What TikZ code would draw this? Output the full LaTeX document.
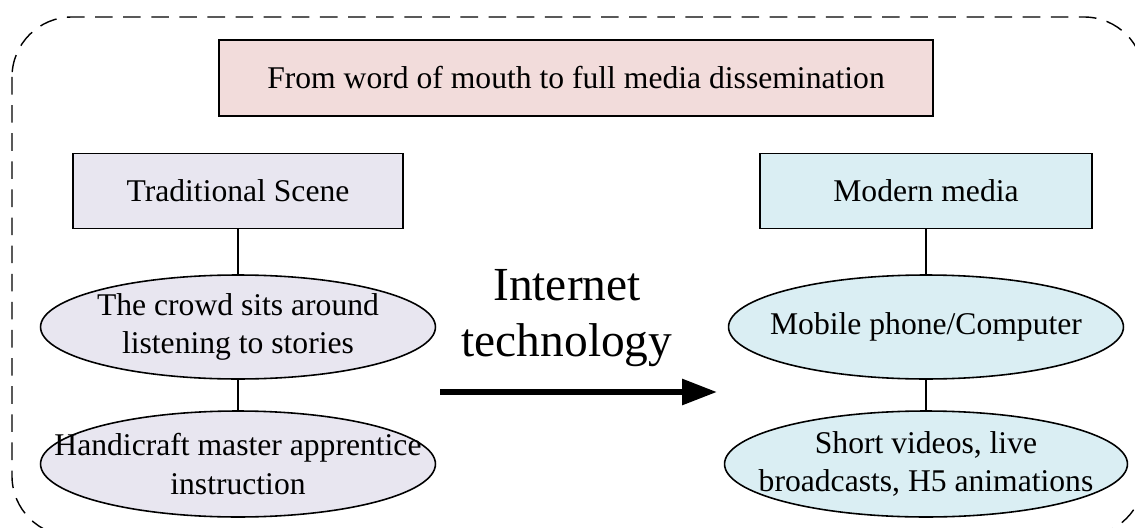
\documentclass[tikz,border=0pt]{standalone}
\usepackage{fontspec}
\setmainfont{Liberation Serif}
\usetikzlibrary{shapes.geometric,arrows.meta}
\definecolor{pinkfill}{HTML}{F2DCDB}
\definecolor{lilacfill}{HTML}{E8E6F0}
\definecolor{bluefill}{HTML}{DAEEF3}
\begin{document}
\begin{tikzpicture}[x=0.02cm,y=-0.02cm]
	\useasboundingbox (0,0) rectangle (1135,527);
	\begin{scope}
		\clip (0,0) rectangle (1135,527);
		\draw[dashed, dash pattern=on 10pt off 6pt, line width=0.8pt, rounded corners=1.2cm] (12,17) rectangle (1144,536);
	\end{scope}
	\begin{scope}[every node/.style={draw=black, line width=0.9pt, font=\fontsize{18}{22}\selectfont, align=center, inner sep=0pt}]
		\node[fill=pinkfill, minimum width=14.28cm, minimum height=1.52cm] (title) at (576,78) {From word of mouth to full media dissemination};
		\node[fill=lilacfill, minimum width=6.6cm, minimum height=1.5cm] (trad) at (238,191) {Traditional Scene};
		\node[fill=bluefill, minimum width=6.64cm, minimum height=1.5cm] (modern) at (926,191) {Modern media};
	\end{scope}
	\begin{scope}[every node/.style={draw=black, line width=0.9pt, ellipse, font=\fontsize{18}{22}\selectfont, align=center, inner xsep=-1.5cm, inner ysep=-0.4cm}]
		\node[fill=lilacfill, minimum width=7.9cm, minimum height=2.08cm] (crowd) at (238,327) {The crowd sits around\\listening to stories};
		\node[fill=lilacfill, minimum width=7.9cm, minimum height=2.12cm] (craft) at (238,464) {Handicraft master apprentice\\instruction};
		\node[fill=bluefill, minimum width=7.9cm, minimum height=2.08cm] (phone) at (926,327) {Mobile phone/Computer};
		\node[fill=bluefill, minimum width=8.06cm, minimum height=2.12cm] (video) at (926,464) {Short videos, live\\broadcasts, H5 animations};
	\end{scope}
	\begin{scope}[every edge/.style={draw=black, line width=0.9pt}]
		\path (trad) edge (crowd);
		\path (crowd) edge (craft);
		\path (modern) edge (phone);
		\path (phone) edge (video);
	\end{scope}
	\node[font=\fontsize{27}{32}\selectfont, align=center] (net) at (567,318) {Internet\\technology};
	\coordinate (arrL) at (440,392);
	\coordinate (arrR) at (717,392);
	\draw[line width=3.4pt, -{Triangle[length=0.7cm,width=0.5cm]}] (arrL) -- (arrR);
\end{tikzpicture}
\end{document}
